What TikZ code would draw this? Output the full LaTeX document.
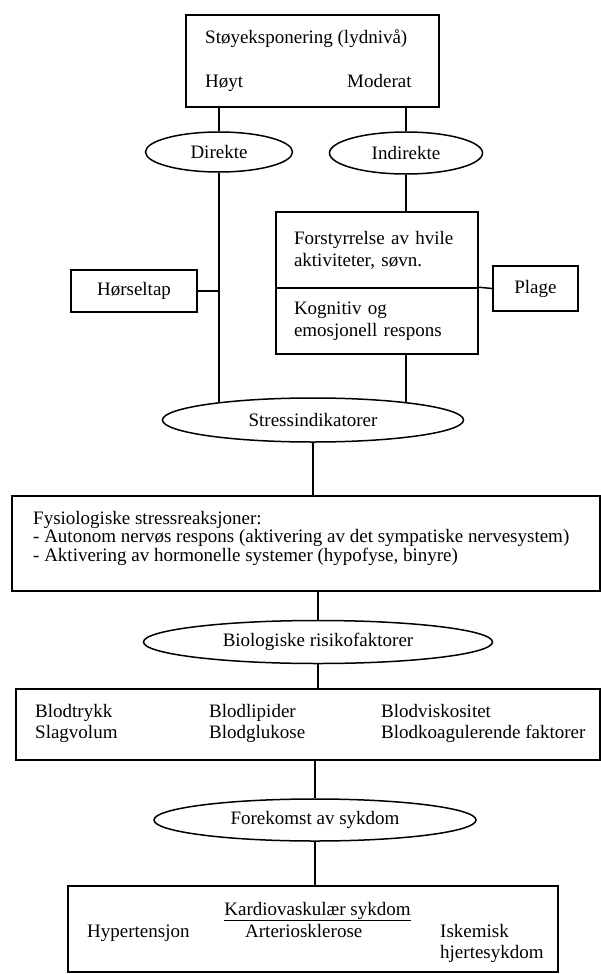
\documentclass[tikz,border=0pt]{standalone}
\usepackage{fontspec}
\setmainfont{Liberation Serif}
\usetikzlibrary{shapes.geometric,backgrounds}
\tikzset{
  boks/.style={draw,rectangle,line width=1.5pt,inner sep=0pt,fill=white},
  oval/.style={draw,ellipse,line width=1.5pt,inner sep=0pt,fill=white},
  tekst/.style={inner sep=0pt,anchor=base west},
  strek/.style={line width=1.5pt},
}
\begin{document}
\begin{tikzpicture}[x=1pt,y=-1pt,font=\fontsize{19}{22}\selectfont]
    \useasboundingbox (0,0) rectangle (601,974);
    \node[boks,minimum width=253pt,minimum height=92pt] (stoy) at (312.5,61) {};
    \node[tekst] (stoytekst) at (205,44) {Støyeksponering (lydnivå)};
    \node[tekst] (hoyt) at (205,87) {Høyt};
    \node[tekst] (moderat) at (347,87) {Moderat};
    \node[oval,minimum width=147pt,minimum height=40pt] (direkte) at (219,152) {Direkte};
    \node[oval,minimum width=153pt,minimum height=42pt] (indirekte) at (406,153) {Indirekte};
    \node[boks,minimum width=202pt,minimum height=76pt,text width=166pt,align=left] (forst) at (377,250) {Forstyrrelse av hvile\\aktiviteter, søvn.};
    \node[boks,minimum width=202pt,minimum height=66pt,text width=166pt,align=left] (kogn) at (377,321) {Kognitiv og\\emosjonell respons};
    \node[boks,minimum width=126pt,minimum height=42pt] (horsel) at (134,291) {Hørseltap};
    \node[boks,minimum width=85pt,minimum height=45pt] (plage) at (535.5,288.5) {Plage};
    \node[oval,minimum width=301pt,minimum height=44pt] (stress) at (313,420) {Stressindikatorer};
    \node[boks,minimum width=588pt,minimum height=95pt] (fysio) at (306,543.5) {};
    \node[tekst,anchor=north west,align=left,font=\fontsize{19}{17}\selectfont] (fysiotekst) at (33,511) {Fysiologiske stressreaksjoner:\\- Autonom nervøs respons (aktivering av det sympatiske nervesystem)\\- Aktivering av hormonelle systemer (hypofyse, binyre)};
    \node[oval,minimum width=349pt,minimum height=43pt] (bio) at (318,642) {Biologiske risikofaktorer};
    \node[boks,minimum width=584pt,minimum height=71pt] (blod) at (308,724.5) {};
    \node[tekst] (trykk) at (35,717) {Blodtrykk};
    \node[tekst] (slag) at (35,738) {Slagvolum};
    \node[tekst] (lipid) at (209,717) {Blodlipider};
    \node[tekst] (glukose) at (209,738) {Blodglukose};
    \node[tekst] (visko) at (381,717) {Blodviskositet};
    \node[tekst] (koag) at (381,738) {Blodkoagulerende faktorer};
    \node[oval,minimum width=322pt,minimum height=42pt] (forekomst) at (315,820) {Forekomst av sykdom};
    \node[boks,minimum width=490pt,minimum height=86pt] (sykdom) at (313,929) {};
    \node[tekst,anchor=base] (kardio) at (317.5,915) {\underline{Kardiovaskulær sykdom}};
    \node[tekst] (hyper) at (87,937) {Hypertensjon};
    \node[tekst] (arterio) at (245,937) {Arteriosklerose};
    \node[tekst] (iskemisk) at (440,937) {Iskemisk};
    \node[tekst] (hjerte) at (440,958) {hjertesykdom};
    \begin{scope}[on background layer]
        \draw[strek] (stoy.south -| direkte.north) -- (direkte.north);
        \draw[strek] (stoy.south -| indirekte.north) -- (indirekte.north);
        \draw[strek] (direkte.south) -- (direkte.south |- stress.center);
        \draw[strek] (indirekte.south) -- (indirekte.south |- forst.north);
        \draw[strek] (kogn.south -| indirekte.south) -- (indirekte.south |- stress.center);
        \draw[strek] (horsel.east) -- (horsel.east -| direkte.south);
        \draw[strek] (kogn.north east) -- (plage.west);
        \draw[strek] (stress.south) -- (stress.south |- fysio.north);
        \draw[strek] (fysio.south -| bio.north) -- (bio.north);
        \draw[strek] (bio.south) -- (bio.south |- blod.north);
        \draw[strek] (blod.south -| forekomst.north) -- (forekomst.north);
        \draw[strek] (forekomst.south) -- (forekomst.south |- sykdom.north);
    \end{scope}
\end{tikzpicture}
\end{document}
